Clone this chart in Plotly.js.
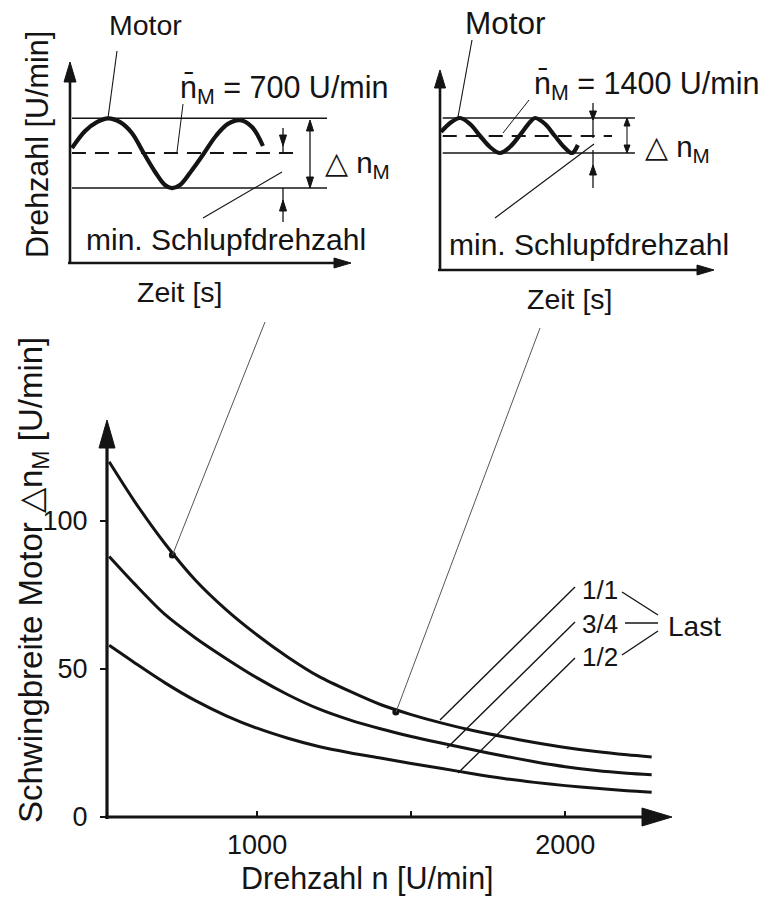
<!DOCTYPE html>
<html>
<head>
<meta charset="utf-8">
<script src="https://cdn.plot.ly/plotly-3.0.1.min.js"></script>
<style>html,body{margin:0;padding:0;background:#fff;}#chart{width:772px;height:901px;}</style>
</head>
<body>
<div id="chart"></div>
<script>
// ---------- data ----------
// main chart: swing amplitude of the motor speed vs. speed, for three loads
const speed = [520, 600, 700, 800, 900, 1000, 1100, 1200, 1300, 1400, 1500, 1600, 1700, 1800, 1900, 2000, 2100, 2200, 2280];
const swingLoadFull = [120, 107, 92.5, 80, 70, 61.5, 54, 47.5, 42.5, 38, 34.6, 31.7, 29.2, 27.1, 25.2, 23.5, 22.1, 21, 20.3];
const swingLoadThreeQuarter = [88, 79, 68.5, 60.5, 53.5, 47, 41.3, 36.5, 32.8, 29.8, 27.2, 24.9, 22.7, 20.6, 18.7, 17, 15.7, 14.8, 14.3];
const swingLoadHalf = [58, 52.3, 45.4, 39.3, 34.2, 30, 26.6, 23.8, 21.7, 19.9, 18.1, 16.4, 14.6, 13, 11.7, 10.6, 9.7, 8.9, 8.4];
const loadLabels = ['1/1', '3/4', '1/2'];
const operatingSpeed = [725, 1450];
const operatingSwing = [88.5, 35.5];
const xTickVals = [1000, 1500, 2000];
const xTickText = ['1000', '', '2000'];
const yTickVals = [0, 50, 100];
const yTickText = ['0', '50', '100'];

// left inset (mean speed 700 U/min), arbitrary units
const leftTime = [0.07, 0.54, 0.96, 1.36, 1.79, 2.21, 2.61, 3.04, 3.39, 3.64, 3.93, 4.36, 4.79, 5.21, 5.64, 6.07, 6.5, 6.89];
const leftSpeed = [5.72, 6.57, 7.01, 7.2, 7.01, 6.47, 5.52, 4.53, 3.88, 3.73, 3.88, 4.63, 5.47, 6.32, 6.92, 7.11, 6.77, 5.82];
const leftLevels = [7.2, 5.47, 3.73];          // max, mean, min
const leftLevelSpan = [0.07, 9.18];
const leftMeanSpan = [0.07, 8.04];

// right inset (mean speed 1400 U/min), arbitrary units
const rightTime = [0.04, 0.37, 0.73, 1.10, 1.47, 1.83, 2.20, 2.56, 2.93, 3.30, 3.48, 3.85, 4.21, 4.58, 4.84, 5.05];
const rightSpeed = [6.9, 7.35, 7.6, 7.3, 6.7, 6.15, 5.85, 6.15, 6.75, 7.4, 7.6, 7.3, 6.7, 6.1, 5.85, 6.25];
const rightLevels = [7.6, 6.7, 5.85];
const rightLevelSpan = [0.1, 7.14];
const rightMeanSpan = [0.1, 6.3];

// ---------- helpers (page pixels -> paper fractions) ----------
const W = 772, H = 901;
const X = v => v / W;
const Y = v => 1 - v / H;
const FONT = "'Liberation Sans', Arial, Helvetica, sans-serif";
const INK = '#141414';

function seg(x0, y0, x1, y1, w, col) {
  return {type: 'line', xref: 'paper', yref: 'paper', x0: X(x0), y0: Y(y0), x1: X(x1), y1: Y(y1),
          line: {color: col || INK, width: w || 1}};
}
function head(tx, ty, dir, len, hw) {
  let p;
  if (dir === 'up')    p = [[tx, ty], [tx - hw, ty + len], [tx + hw, ty + len]];
  if (dir === 'down')  p = [[tx, ty], [tx - hw, ty - len], [tx + hw, ty - len]];
  if (dir === 'right') p = [[tx, ty], [tx - len, ty - hw], [tx - len, ty + hw]];
  const d = 'M ' + p.map(q => X(q[0]) + ',' + Y(q[1])).join(' L ') + ' Z';
  return {type: 'path', xref: 'paper', yref: 'paper', path: d, fillcolor: INK, line: {color: INK, width: 1}};
}
function txt(text, x, y, size, opts) {
  return Object.assign({text: text, xref: 'paper', yref: 'paper', x: X(x), y: Y(y), showarrow: false,
    xanchor: 'center', yanchor: 'middle', font: {family: FONT, size: size, color: INK}}, opts || {});
}

// ---------- traces ----------
const traces = [];
const curveStyle = {color: INK, width: 3, shape: 'spline', smoothing: 0.8};
[swingLoadFull, swingLoadThreeQuarter, swingLoadHalf].forEach((s, i) => {
  traces.push({x: speed, y: s, xaxis: 'x', yaxis: 'y', mode: 'lines', name: loadLabels[i], line: curveStyle, hoverinfo: 'skip'});
});
traces.push({x: operatingSpeed, y: operatingSwing, xaxis: 'x', yaxis: 'y', mode: 'markers',
  marker: {color: INK, size: 7}, hoverinfo: 'skip'});

function insetTraces(t, s, levels, span, meanSpan, xa, ya) {
  const out = [];
  [levels[0], levels[2]].forEach(v => out.push({x: span, y: [v, v], xaxis: xa, yaxis: ya, mode: 'lines',
    line: {color: INK, width: 1.6}, hoverinfo: 'skip'}));
  out.push({x: meanSpan, y: [levels[1], levels[1]], xaxis: xa, yaxis: ya, mode: 'lines',
    line: {color: INK, width: 2, dash: '14px,9px'}, hoverinfo: 'skip'});
  out.push({x: t, y: s, xaxis: xa, yaxis: ya, mode: 'lines',
    line: {color: INK, width: 4.2, shape: 'spline', smoothing: 1}, hoverinfo: 'skip'});
  return out;
}
traces.push(...insetTraces(leftTime, leftSpeed, leftLevels, leftLevelSpan, leftMeanSpan, 'x2', 'y2'));
traces.push(...insetTraces(rightTime, rightSpeed, rightLevels, rightLevelSpan, rightMeanSpan, 'x3', 'y3'));

// ---------- shapes ----------
const shapes = [
  // main axes
  seg(107, 819, 107, 440, 3.2), head(107, 420, 'up', 28, 8),
  seg(105, 817, 650, 817, 3.2), head(672, 817, 'right', 30, 9),
  // left inset axes
  seg(70, 264, 70, 78, 2.6), head(70, 62, 'up', 20, 6),
  seg(68, 263, 336, 263, 2.6), head(351, 263, 'right', 17, 5),
  // right inset axes
  seg(440, 271, 440, 84, 2.6), head(440, 70, 'up', 18, 5.5),
  seg(438, 270, 700, 270, 2.6), head(714, 270, 'right', 17, 5),
  // left inset dimension arrows
  seg(283, 128, 283, 153, 1.3), head(283, 146, 'down', 11, 3.5),
  seg(283, 188, 283, 222, 1.3), head(283, 200, 'up', 11, 3.5),
  seg(310, 121, 310, 188, 1.3), head(310, 120, 'up', 11, 3.5), head(310, 188, 'down', 11, 3.5),
  // right inset dimension arrows
  seg(593, 103, 593, 138, 1.3), head(593, 120, 'down', 9, 3.5),
  seg(593, 150, 593, 188, 1.3), head(593, 165, 'up', 10, 3.5),
  seg(627, 118, 627, 153, 1.1), head(627, 118, 'up', 8, 3), head(627, 153, 'down', 8, 3),
  // inset leader lines
  seg(117, 51, 108, 118, 1.1), seg(183, 104, 177, 152, 1), seg(203, 218, 282, 172, 1.1),
  seg(472, 40, 458, 117, 1.1), seg(529, 100, 503, 133, 1), seg(495, 218, 594, 144, 1.1),
  // leaders from the insets to the operating points
  seg(265, 322, 172.5, 555, 1, '#555'), seg(540, 328, 396, 712, 1, '#555'),
  // load label leaders
  seg(575, 587, 440, 720, 1.4), seg(575, 622, 447, 748, 1.4), seg(575, 658, 458, 773, 1.4),
  seg(622, 592, 658, 615, 1.4), seg(625, 623, 658, 623, 1.4), seg(622, 655, 658, 631, 1.4)
];

// ---------- annotations (texts) ----------
const annotations = [
  txt('Motor', 145, 25, 28.5),
  txt('n\u0304<sub>M</sub> = 700 U/min', 178, 89, 30.5, {xanchor: 'left'}),
  txt('\u25B3 n<sub>M</sub>', 323, 164, 29.5, {xanchor: 'left'}),
  txt('min. Schlupfdrehzahl', 226, 240, 30),
  txt('Zeit [s]', 180, 292, 28.5),
  txt('Drehzahl [U/min]', 38, 145, 30.5, {textangle: -90}),
  txt('Motor', 505, 23, 31.5),
  txt('n\u0304<sub>M</sub> = 1400 U/min', 532, 86, 30.5, {xanchor: 'left'}),
  txt('\u25B3 n<sub>M</sub>', 643, 148, 29.5, {xanchor: 'left'}),
  txt('min. Schlupfdrehzahl', 589, 244, 30),
  txt('Zeit [s]', 570, 299, 28.5),
  txt('Schwingbreite Motor \u25B3n<sub>M</sub> [U/min]', 33, 580, 33, {textangle: -90}),
  txt('Drehzahl n [U/min]', 367, 878, 30.5),
  txt(loadLabels[0], 600, 590, 26),
  txt(loadLabels[1], 600, 624, 26),
  txt(loadLabels[2], 600, 657, 26),
  txt('Last', 694, 626, 28)
];

const hidden = {visible: false, showgrid: false, zeroline: false, fixedrange: true};
const layout = {
  width: W, height: H,
  margin: {l: 0, r: 0, t: 0, b: 0, pad: 0},
  paper_bgcolor: '#ffffff', plot_bgcolor: 'rgba(0,0,0,0)',
  showlegend: false,
  xaxis: {domain: [X(107), X(672)], range: [513, 2346], anchor: 'y', showgrid: false, zeroline: false, showline: false,
    tickmode: 'array', tickvals: xTickVals, ticktext: xTickText, ticks: 'inside', ticklen: 6, tickwidth: 2, tickcolor: INK,
    tickfont: {family: FONT, size: 27, color: INK}, ticklabelstandoff: 9},
  yaxis: {domain: [Y(817), Y(418)], range: [0, 134.8], anchor: 'x', showgrid: false, zeroline: false, showline: false,
    tickmode: 'array', tickvals: yTickVals, ticktext: yTickText, ticks: 'outside', ticklen: 6, tickwidth: 2, tickcolor: INK,
    tickfont: {family: FONT, size: 27, color: INK}, ticklabelstandoff: 7},
  xaxis2: Object.assign({domain: [X(70), X(350)], range: [0, 10], anchor: 'y2'}, hidden),
  yaxis2: Object.assign({domain: [Y(263), Y(62)], range: [0, 10], anchor: 'x2'}, hidden),
  xaxis3: Object.assign({domain: [X(440), X(713)], range: [0, 10], anchor: 'y3'}, hidden),
  yaxis3: Object.assign({domain: [Y(270), Y(70)], range: [0, 10], anchor: 'x3'}, hidden),
  shapes: shapes,
  annotations: annotations
};

Plotly.newPlot('chart', traces, layout, {staticPlot: true, displayModeBar: false});
</script>
</body>
</html>
